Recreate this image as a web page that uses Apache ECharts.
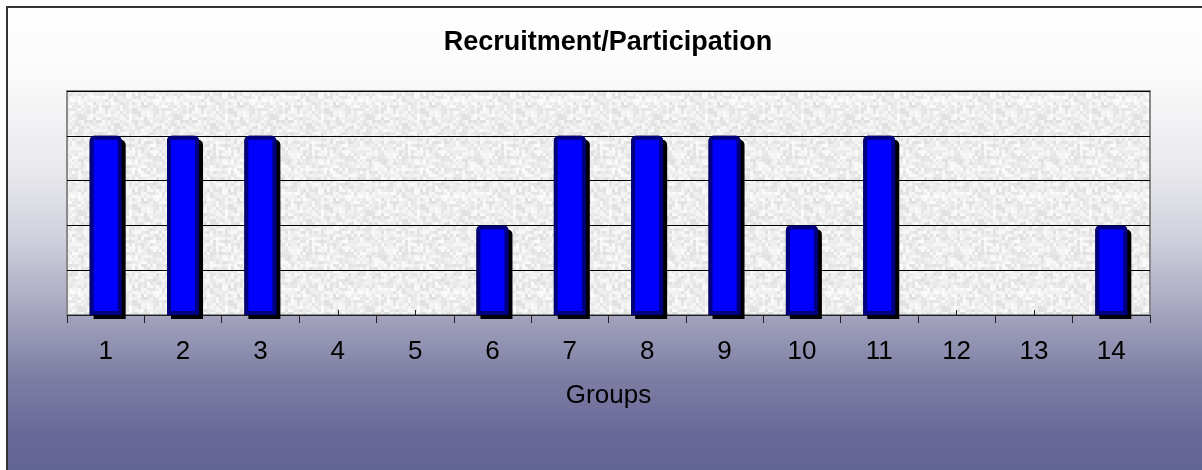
<!DOCTYPE html>
<html>
<head>
<meta charset="utf-8">
<title>Recruitment/Participation</title>
<script src="https://cdn.jsdelivr.net/npm/echarts@6/dist/echarts.min.js"></script>
<style>
  html, body { margin: 0; padding: 0; background: #fff; }
  #chart { width: 1202px; height: 470px; }
</style>
</head>
<body>
<div id="chart"></div>
<script>
// data
var groups = ['1', '2', '3', '4', '5', '6', '7', '8', '9', '10', '11', '12', '13', '14'];
var participation = [4, 4, 4, 0, 0, 2, 4, 4, 4, 2, 4, 0, 0, 2];
var yMax = 5;
var yStep = 1;

var font = '"Liberation Sans", Arial, sans-serif';

// grey speckled plot background (just a fill texture)
function speckle() {
  var c = document.createElement('canvas');
  c.width = 96; c.height = 96;
  var ctx = c.getContext('2d');
  var seed = 7;
  for (var y = 0; y < 96; y += 3) {
    for (var x = 0; x < 96; x += 3) {
      seed = (seed * 1103515245 + 12345) & 0x7fffffff;
      var g = 224 + (seed >> 8) % 28;
      ctx.fillStyle = 'rgb(' + g + ',' + g + ',' + g + ')';
      ctx.fillRect(x, y, 3, 3);
    }
  }
  return c;
}

// zero bars get no outline / shadow
function barItems(v) {
  if (v === 0) return { value: v, itemStyle: { borderWidth: 0, shadowColor: 'transparent' } };
  return v;
}

var chart = echarts.init(document.getElementById('chart'));
chart.setOption({
  animation: false,
  backgroundColor: '#ffffff',
  textStyle: { fontFamily: font },
  graphic: [{
    type: 'rect',
    z: -10,
    shape: { x: 7, y: 7, width: 1300, height: 600 },
    style: {
      fill: {
        type: 'linear', x: 0, y: 0, x2: 0, y2: 470, global: true,
        colorStops: [
          { offset: 0, color: '#ffffff' },
          { offset: 0.15, color: '#fbfbfb' },
          { offset: 0.35, color: '#eaeaee' },
          { offset: 0.5, color: '#d2d2de' },
          { offset: 0.66, color: '#a6a6c0' },
          { offset: 0.8, color: '#7e7ea4' },
          { offset: 0.93, color: '#686898' },
          { offset: 1, color: '#636496' }
        ]
      },
      stroke: '#333333',
      lineWidth: 2
    }
  }],
  title: {
    text: 'Recruitment/Participation',
    left: 608,
    top: 29,
    padding: 0,
    textAlign: 'center',
    textStyle: { fontFamily: font, fontSize: 27, fontWeight: 'bold', color: '#000' }
  },
  grid: {
    left: 67,
    right: 52,
    top: 91,
    bottom: 155,
    show: true,
    backgroundColor: { image: speckle(), repeat: 'repeat' },
    borderColor: '#8a8a8a',
    borderWidth: 2
  },
  xAxis: [{
    type: 'category',
    data: groups,
    position: 'bottom',
    name: 'Groups',
    nameLocation: 'middle',
    nameGap: 68,
    nameTextStyle: { fontFamily: font, fontSize: 26, color: '#000' },
    axisLine: { lineStyle: { color: '#222', width: 1 } },
    axisTick: { show: true, alignWithLabel: false, length: 8, lineStyle: { color: '#222' } },
    axisLabel: { margin: 24, fontFamily: font, fontSize: 26, color: '#000' },
    splitLine: { show: false }
  }, {
    type: 'category',
    data: groups,
    position: 'bottom',
    axisLine: { show: false },
    axisTick: { show: true, inside: true, alignWithLabel: true, length: 5, lineStyle: { color: '#222' } },
    axisLabel: { show: false },
    splitLine: { show: false }
  }],
  yAxis: {
    type: 'value',
    min: 0,
    max: yMax,
    interval: yStep,
    axisLine: { show: false },
    axisTick: { show: false },
    axisLabel: { show: false },
    splitLine: { lineStyle: { color: '#000', width: 1 } }
  },
  series: [{
    // black drop shadow behind each bar
    type: 'bar',
    name: 'shadow',
    xAxisIndex: 0,
    data: participation.map(barItems),
    barWidth: 32,
    barGap: '-100%',
    silent: true,
    itemStyle: {
      color: '#000',
      borderColor: '#000',
      borderWidth: 4,
      borderRadius: [3, 3, 0, 0],
      shadowColor: '#000',
      shadowOffsetX: 4,
      shadowOffsetY: 4,
      shadowBlur: 0
    }
  }, {
    type: 'bar',
    name: 'Participation',
    xAxisIndex: 0,
    data: participation.map(barItems),
    barWidth: 32,
    barGap: '-100%',
    itemStyle: {
      color: '#0000ff',
      borderColor: '#000080',
      borderWidth: 4,
      borderRadius: [3, 3, 0, 0]
    }
  }]
});
</script>
</body>
</html>
